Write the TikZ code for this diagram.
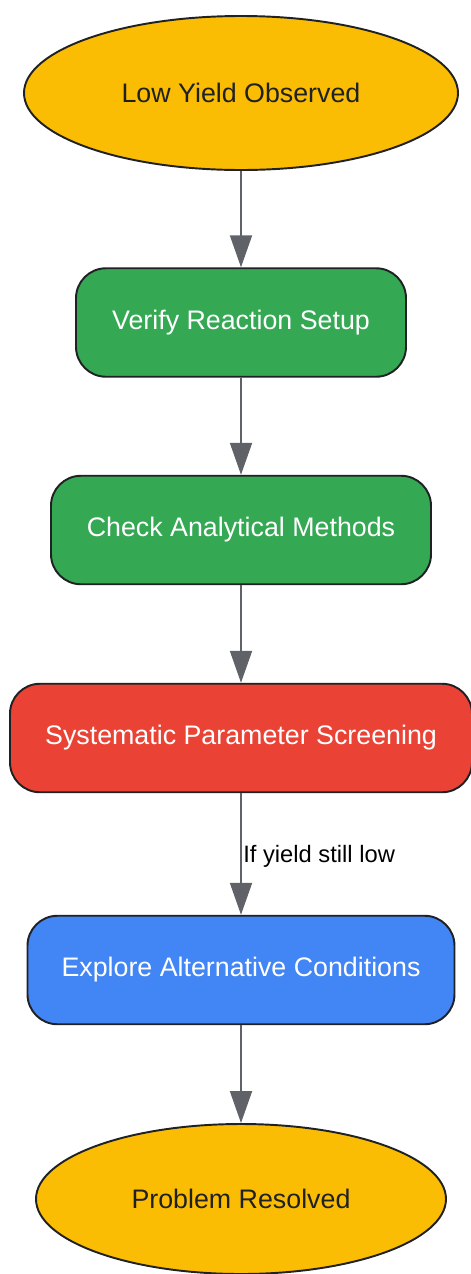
\documentclass[tikz,border=0pt]{standalone}
\usepackage{fontspec}
\setmainfont{Liberation Sans}
\usepackage{xcolor}
\usetikzlibrary{shapes.geometric,arrows.meta}

\definecolor{gyellow}{HTML}{FBBC04}
\definecolor{ggreen}{HTML}{34A853}
\definecolor{gred}{HTML}{EA4335}
\definecolor{gblue}{HTML}{4285F4}
\definecolor{gdark}{HTML}{202124}
\definecolor{ggray}{HTML}{5F6368}

\begin{document}
\begin{tikzpicture}[
  endpoint/.style={ellipse, draw=gdark, line width=1.1pt, fill=gyellow, text=gdark, inner sep=0pt, font=\fontsize{15.25}{18}\selectfont},
  stepbox/.style={rectangle, rounded corners=0.6cm, draw=gdark, line width=1.1pt, text=white, inner sep=0pt, minimum height=2.17cm, font=\fontsize{15.25}{18}\selectfont},
  flow/.style={draw=ggray, line width=1.1pt, -{Triangle[length=0.64cm,width=0.44cm]}}
]
\useasboundingbox (0,0) rectangle (9.4,-25.48);

\node[endpoint, minimum width=8.68cm, minimum height=3.08cm] (low) at (4.82,-1.86) {Low Yield Observed};
\node[stepbox, fill=ggreen, minimum width=6.6cm] (verify) at (4.82,-6.45) {Verify Reaction Setup};
\node[stepbox, fill=ggreen, minimum width=7.6cm] (check) at (4.82,-10.6) {Check Analytical Methods};
\node[stepbox, fill=gred, minimum width=9.24cm] (screen) at (4.82,-14.76) {Systematic Parameter Screening};
\node[stepbox, fill=gblue, minimum width=8.54cm] (explore) at (4.82,-19.4) {Explore Alternative Conditions};
\node[endpoint, minimum width=8.2cm, minimum height=3.0cm] (solved) at (4.82,-23.98) {Problem Resolved};

\draw[flow] (low) -- (verify);
\draw[flow] (verify) -- (check);
\draw[flow] (check) -- (screen);
\draw[flow] (screen) -- (explore);
\draw[flow] (explore) -- (solved);

\node[anchor=west, inner sep=0pt, font=\fontsize{13.5}{16}\selectfont] (cond) at (4.86,-17.12) {If yield still low};
\end{tikzpicture}
\end{document}
